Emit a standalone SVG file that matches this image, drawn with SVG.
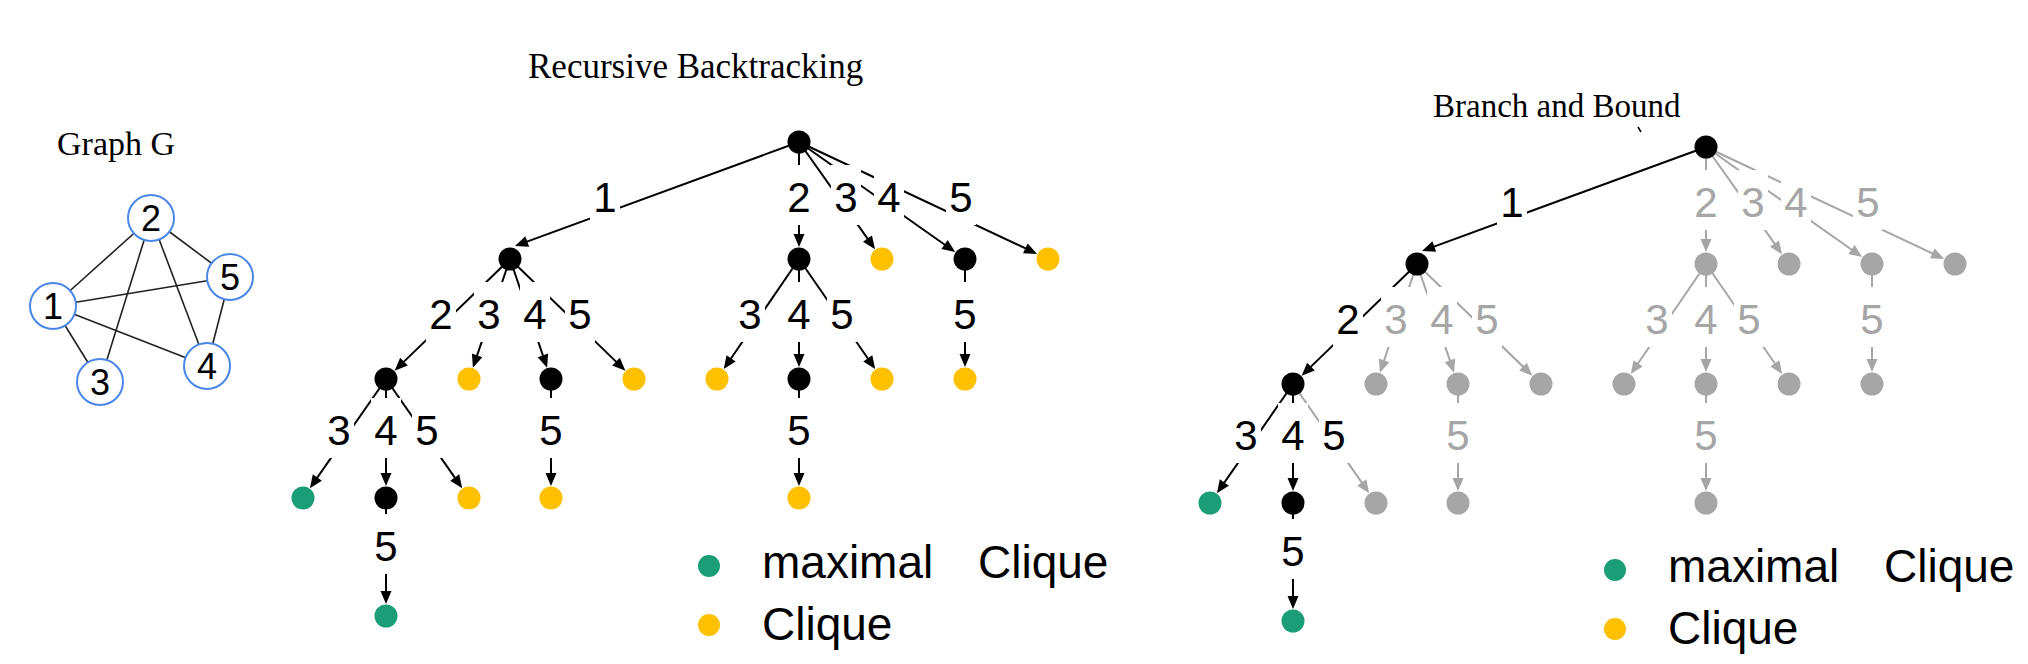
<svg xmlns="http://www.w3.org/2000/svg" width="2028" height="664" viewBox="0 0 2028 664">
<style>
.title{font-family:"Liberation Serif","Times New Roman",serif;fill:#000}
.gn{fill:#fff;stroke:#4a86e8;stroke-width:2}
.gt{font-family:"Liberation Sans",Arial,sans-serif;font-size:36px;text-anchor:middle;fill:#000}
.ge{stroke:#222;stroke-width:1.6;fill:none}
.e{stroke:#000;stroke-width:2;fill:none;marker-end:url(#ab)}
.eg{stroke:#a6a6a6;stroke-width:2;fill:none;marker-end:url(#ag)}
.lb{fill:#fff}
.lt{font-family:"Liberation Sans",Arial,sans-serif;font-size:42px;text-anchor:middle;fill:#000}
.lg{font-family:"Liberation Sans",Arial,sans-serif;font-size:42px;text-anchor:middle;fill:#a6a6a6}
.nb{fill:#000}
.ny{fill:#ffc000}
.nt{fill:#1b9e77}
.ng{fill:#a6a6a6}
.leg{font-family:"Liberation Sans",Arial,sans-serif;font-size:46px;fill:#000}
</style>
<defs>
<marker id="ab" markerUnits="userSpaceOnUse" viewBox="-16 -7 20 14" markerWidth="20" markerHeight="14" refX="-4" refY="0" orient="auto"><path d="M0,0 L-13,-5.5 L-13,5.5 Z" fill="#000"/></marker>
<marker id="ag" markerUnits="userSpaceOnUse" viewBox="-16 -7 20 14" markerWidth="20" markerHeight="14" refX="-4" refY="0" orient="auto"><path d="M0,0 L-13,-5.5 L-13,5.5 Z" fill="#a6a6a6"/></marker>
</defs>
<rect width="2028" height="664" fill="#fff"/>

<!-- Titles -->
<g id="titles">
<text class="title" x="57" y="155" font-size="34">Graph G</text>
<text class="title" x="528" y="78" font-size="35">Recursive Backtracking</text>
<text class="title" x="1433" y="117" font-size="33">Branch and Bound</text>
<path d="M1638 127 L1641 132" stroke="#000" stroke-width="1.5"/>
</g>

<!-- Graph G -->
<g id="graph-edges">
<line class="ge" x1="53" y1="306" x2="151" y2="218"/>
<line class="ge" x1="151" y1="218" x2="230" y2="277"/>
<line class="ge" x1="53" y1="306" x2="230" y2="277"/>
<line class="ge" x1="151" y1="218" x2="100" y2="382"/>
<line class="ge" x1="151" y1="218" x2="207" y2="366"/>
<line class="ge" x1="53" y1="306" x2="207" y2="366"/>
<line class="ge" x1="53" y1="306" x2="100" y2="382"/>
<line class="ge" x1="230" y1="277" x2="207" y2="366"/>
</g>
<g id="g-node-1"><circle class="gn" cx="53" cy="306" r="23"/><text class="gt" x="53" y="319">1</text></g>
<g id="g-node-2"><circle class="gn" cx="151" cy="218" r="23"/><text class="gt" x="151" y="231">2</text></g>
<g id="g-node-3"><circle class="gn" cx="100" cy="382" r="23"/><text class="gt" x="100" y="395">3</text></g>
<g id="g-node-4"><circle class="gn" cx="207" cy="366" r="23"/><text class="gt" x="207" y="379">4</text></g>
<g id="g-node-5"><circle class="gn" cx="230" cy="277" r="23"/><text class="gt" x="230" y="290">5</text></g>

<!-- Left tree connectors -->
<g id="connectors-backtracking">
<line class="e" x1="799" y1="142" x2="518.8" y2="244.6"/>
<line class="e" x1="799" y1="142" x2="799" y2="243"/>
<line class="e" x1="799" y1="142" x2="872.7" y2="245.9"/>
<line class="e" x1="799" y1="142" x2="951.9" y2="249.8"/>
<line class="e" x1="799" y1="142" x2="1033.5" y2="252.2"/>
<line class="e" x1="510" y1="259" x2="397.5" y2="367.9"/>
<line class="e" x1="510" y1="259" x2="474.2" y2="363.9"/>
<line class="e" x1="510" y1="259" x2="545.8" y2="363.9"/>
<line class="e" x1="510" y1="259" x2="622.5" y2="367.9"/>
<line class="e" x1="799" y1="259" x2="726" y2="365.8"/>
<line class="e" x1="799" y1="259" x2="799" y2="363"/>
<line class="e" x1="799" y1="259" x2="872.9" y2="365.8"/>
<line class="e" x1="965" y1="259" x2="965" y2="363"/>
<line class="e" x1="386" y1="379" x2="312.2" y2="484.9"/>
<line class="e" x1="386" y1="379" x2="386" y2="482"/>
<line class="e" x1="386" y1="379" x2="459.9" y2="484.9"/>
<line class="e" x1="551" y1="379" x2="551" y2="482"/>
<line class="e" x1="799" y1="379" x2="799" y2="482"/>
<line class="e" x1="386" y1="498" x2="386" y2="600"/>
<g id="labels-backtracking">
<rect class="lb" x="590" y="165" width="30" height="60"/><text class="lt" x="605" y="212">1</text>
<rect class="lb" x="784" y="165" width="30" height="60"/><text class="lt" x="799" y="212">2</text>
<rect class="lb" x="831" y="165" width="30" height="60"/><text class="lt" x="846" y="212">3</text>
<rect class="lb" x="874" y="165" width="30" height="60"/><text class="lt" x="889" y="212">4</text>
<rect class="lb" x="946" y="165" width="30" height="60"/><text class="lt" x="961" y="212">5</text>
<rect class="lb" x="426" y="282" width="30" height="60"/><text class="lt" x="441" y="329">2</text>
<rect class="lb" x="474" y="282" width="30" height="60"/><text class="lt" x="489" y="329">3</text>
<rect class="lb" x="520" y="282" width="30" height="60"/><text class="lt" x="535" y="329">4</text>
<rect class="lb" x="565" y="282" width="30" height="60"/><text class="lt" x="580" y="329">5</text>
<rect class="lb" x="735" y="282" width="30" height="60"/><text class="lt" x="750" y="329">3</text>
<rect class="lb" x="784" y="282" width="30" height="60"/><text class="lt" x="799" y="329">4</text>
<rect class="lb" x="827" y="282" width="30" height="60"/><text class="lt" x="842" y="329">5</text>
<rect class="lb" x="950" y="282" width="30" height="60"/><text class="lt" x="965" y="329">5</text>
<rect class="lb" x="324" y="398" width="30" height="60"/><text class="lt" x="339" y="445">3</text>
<rect class="lb" x="371" y="398" width="30" height="60"/><text class="lt" x="386" y="445">4</text>
<rect class="lb" x="412" y="398" width="30" height="60"/><text class="lt" x="427" y="445">5</text>
<rect class="lb" x="536" y="398" width="30" height="60"/><text class="lt" x="551" y="445">5</text>
<rect class="lb" x="784" y="398" width="30" height="60"/><text class="lt" x="799" y="445">5</text>
<rect class="lb" x="371" y="514" width="30" height="60"/><text class="lt" x="386" y="561">5</text>
</g>
</g>

<!-- Left tree nodes -->
<g id="bt-root"><circle class="nb" cx="799" cy="142" r="11.5"/></g>
<g id="bt-1"><circle class="nb" cx="510" cy="259" r="11.5"/></g>
<g id="bt-2"><circle class="nb" cx="799" cy="259" r="11.5"/></g>
<g id="bt-3"><circle class="ny" cx="882" cy="259" r="11.5"/></g>
<g id="bt-4"><circle class="nb" cx="965" cy="259" r="11.5"/></g>
<g id="bt-5"><circle class="ny" cx="1048" cy="259" r="11.5"/></g>
<g id="bt-12"><circle class="nb" cx="386" cy="379" r="11.5"/></g>
<g id="bt-13"><circle class="ny" cx="469" cy="379" r="11.5"/></g>
<g id="bt-14"><circle class="nb" cx="551" cy="379" r="11.5"/></g>
<g id="bt-15"><circle class="ny" cx="634" cy="379" r="11.5"/></g>
<g id="bt-23"><circle class="ny" cx="717" cy="379" r="11.5"/></g>
<g id="bt-24"><circle class="nb" cx="799" cy="379" r="11.5"/></g>
<g id="bt-25"><circle class="ny" cx="882" cy="379" r="11.5"/></g>
<g id="bt-45"><circle class="ny" cx="965" cy="379" r="11.5"/></g>
<g id="bt-123"><circle class="nt" cx="303" cy="498" r="11.5"/></g>
<g id="bt-124"><circle class="nb" cx="386" cy="498" r="11.5"/></g>
<g id="bt-125"><circle class="ny" cx="469" cy="498" r="11.5"/></g>
<g id="bt-145"><circle class="ny" cx="551" cy="498" r="11.5"/></g>
<g id="bt-245"><circle class="ny" cx="799" cy="498" r="11.5"/></g>
<g id="bt-1245"><circle class="nt" cx="386" cy="616" r="11.5"/></g>

<!-- Left legend -->
<g id="legend-backtracking">
<circle class="nt" cx="709" cy="566" r="11"/>
<text class="leg" x="762" y="578">maximal <tspan x="978">Clique</tspan></text>
<circle class="ny" cx="709" cy="625" r="11"/>
<text class="leg" x="762" y="640">Clique</text>
</g>

<!-- Right tree connectors -->
<g id="connectors-bnb">
<line class="e" x1="1706" y1="147" x2="1425.8" y2="249.6"/>
<line class="eg" x1="1706" y1="147" x2="1706" y2="248"/>
<line class="eg" x1="1706" y1="147" x2="1779.7" y2="250.9"/>
<line class="eg" x1="1706" y1="147" x2="1858.9" y2="254.8"/>
<line class="eg" x1="1706" y1="147" x2="1940.5" y2="257.2"/>
<line class="e" x1="1417" y1="264" x2="1304.5" y2="372.9"/>
<line class="eg" x1="1417" y1="264" x2="1381.2" y2="368.9"/>
<line class="eg" x1="1417" y1="264" x2="1452.8" y2="368.9"/>
<line class="eg" x1="1417" y1="264" x2="1529.5" y2="372.9"/>
<line class="eg" x1="1706" y1="264" x2="1633" y2="370.8"/>
<line class="eg" x1="1706" y1="264" x2="1706" y2="368"/>
<line class="eg" x1="1706" y1="264" x2="1779.9" y2="370.8"/>
<line class="eg" x1="1872" y1="264" x2="1872" y2="368"/>
<line class="e" x1="1293" y1="384" x2="1219.2" y2="489.9"/>
<line class="e" x1="1293" y1="384" x2="1293" y2="487"/>
<line class="eg" x1="1293" y1="384" x2="1366.9" y2="489.9"/>
<line class="eg" x1="1458" y1="384" x2="1458" y2="487"/>
<line class="eg" x1="1706" y1="384" x2="1706" y2="487"/>
<line class="e" x1="1293" y1="503" x2="1293" y2="605"/>
<g id="labels-bnb">
<rect class="lb" x="1497" y="170" width="30" height="60"/><text class="lt" x="1512" y="217">1</text>
<rect class="lb" x="1691" y="170" width="30" height="60"/><text class="lg" x="1706" y="217">2</text>
<rect class="lb" x="1738" y="170" width="30" height="60"/><text class="lg" x="1753" y="217">3</text>
<rect class="lb" x="1781" y="170" width="30" height="60"/><text class="lg" x="1796" y="217">4</text>
<rect class="lb" x="1853" y="170" width="30" height="60"/><text class="lg" x="1868" y="217">5</text>
<rect class="lb" x="1333" y="287" width="30" height="60"/><text class="lt" x="1348" y="334">2</text>
<rect class="lb" x="1381" y="287" width="30" height="60"/><text class="lg" x="1396" y="334">3</text>
<rect class="lb" x="1427" y="287" width="30" height="60"/><text class="lg" x="1442" y="334">4</text>
<rect class="lb" x="1472" y="287" width="30" height="60"/><text class="lg" x="1487" y="334">5</text>
<rect class="lb" x="1642" y="287" width="30" height="60"/><text class="lg" x="1657" y="334">3</text>
<rect class="lb" x="1691" y="287" width="30" height="60"/><text class="lg" x="1706" y="334">4</text>
<rect class="lb" x="1734" y="287" width="30" height="60"/><text class="lg" x="1749" y="334">5</text>
<rect class="lb" x="1857" y="287" width="30" height="60"/><text class="lg" x="1872" y="334">5</text>
<rect class="lb" x="1231" y="403" width="30" height="60"/><text class="lt" x="1246" y="450">3</text>
<rect class="lb" x="1278" y="403" width="30" height="60"/><text class="lt" x="1293" y="450">4</text>
<rect class="lb" x="1319" y="403" width="30" height="60"/><text class="lt" x="1334" y="450">5</text>
<rect class="lb" x="1443" y="403" width="30" height="60"/><text class="lg" x="1458" y="450">5</text>
<rect class="lb" x="1691" y="403" width="30" height="60"/><text class="lg" x="1706" y="450">5</text>
<rect class="lb" x="1278" y="519" width="30" height="60"/><text class="lt" x="1293" y="566">5</text>
</g>
</g>

<!-- Right tree nodes -->
<g id="bb-root"><circle class="nb" cx="1706" cy="147" r="11.5"/></g>
<g id="bb-1"><circle class="nb" cx="1417" cy="264" r="11.5"/></g>
<g id="bb-2"><circle class="ng" cx="1706" cy="264" r="11.5"/></g>
<g id="bb-3"><circle class="ng" cx="1789" cy="264" r="11.5"/></g>
<g id="bb-4"><circle class="ng" cx="1872" cy="264" r="11.5"/></g>
<g id="bb-5"><circle class="ng" cx="1955" cy="264" r="11.5"/></g>
<g id="bb-12"><circle class="nb" cx="1293" cy="384" r="11.5"/></g>
<g id="bb-13"><circle class="ng" cx="1376" cy="384" r="11.5"/></g>
<g id="bb-14"><circle class="ng" cx="1458" cy="384" r="11.5"/></g>
<g id="bb-15"><circle class="ng" cx="1541" cy="384" r="11.5"/></g>
<g id="bb-23"><circle class="ng" cx="1624" cy="384" r="11.5"/></g>
<g id="bb-24"><circle class="ng" cx="1706" cy="384" r="11.5"/></g>
<g id="bb-25"><circle class="ng" cx="1789" cy="384" r="11.5"/></g>
<g id="bb-45"><circle class="ng" cx="1872" cy="384" r="11.5"/></g>
<g id="bb-123"><circle class="nt" cx="1210" cy="503" r="11.5"/></g>
<g id="bb-124"><circle class="nb" cx="1293" cy="503" r="11.5"/></g>
<g id="bb-125"><circle class="ng" cx="1376" cy="503" r="11.5"/></g>
<g id="bb-145"><circle class="ng" cx="1458" cy="503" r="11.5"/></g>
<g id="bb-245"><circle class="ng" cx="1706" cy="503" r="11.5"/></g>
<g id="bb-1245"><circle class="nt" cx="1293" cy="621" r="11.5"/></g>

<!-- Right legend -->
<g id="legend-bnb">
<circle class="nt" cx="1615" cy="570" r="11"/>
<text class="leg" x="1668" y="582">maximal <tspan x="1884">Clique</tspan></text>
<circle class="ny" cx="1615" cy="629" r="11"/>
<text class="leg" x="1668" y="644">Clique</text>
</g>
</svg>
